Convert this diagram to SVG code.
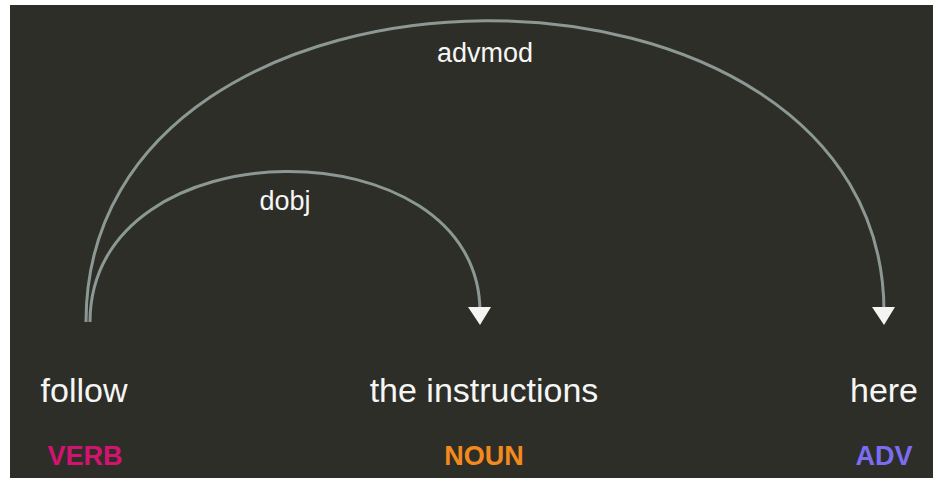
<svg xmlns="http://www.w3.org/2000/svg" width="933" height="478" viewBox="0 0 933 478">
  <style>
    .arc { fill: none; stroke: #8c9893; stroke-width: 3; }
    .head { fill: #f4f4f2; }
    .word { font-family: "Liberation Sans", Arial, sans-serif; font-size: 34px; fill: #f6f6f4; text-anchor: middle; }
    .tag { font-family: "Liberation Sans", Arial, sans-serif; font-size: 27px; font-weight: bold; text-anchor: middle; }
    .label { font-family: "Liberation Sans", Arial, sans-serif; font-size: 27px; fill: #f6f6f4; text-anchor: middle; }
  </style>
  <rect x="0" y="0" width="933" height="478" fill="#ffffff"/>
  <rect x="10" y="5" width="923" height="473" fill="#2e2e29"/>

  <g id="follow">
    <text class="word" x="84" y="402">follow</text>
    <text class="tag" x="85" y="465" fill="#d4126f">VERB</text>
  </g>
  <g id="the-instructions">
    <text class="word" x="484" y="402">the instructions</text>
    <text class="tag" x="484" y="465" fill="#f48a1e">NOUN</text>
  </g>
  <g id="here">
    <text class="word" x="884" y="402">here</text>
    <text class="tag" x="884" y="465" fill="#7b6df2">ADV</text>
  </g>

  <g id="connectors">
    <g id="arc-dobj">
      <path class="arc" d="M90,322 C90,123 480,123 480,312"/>
      <polygon class="head" points="468,307 491,307 480,325"/>
      <text class="label" x="285" y="210">dobj</text>
    </g>
    <g id="arc-advmod">
      <path class="arc" d="M86,322 C86,-78 884,-78 884,312"/>
      <polygon class="head" points="872,307 895,307 884,325"/>
      <text class="label" x="485" y="62">advmod</text>
    </g>
  </g>
</svg>
